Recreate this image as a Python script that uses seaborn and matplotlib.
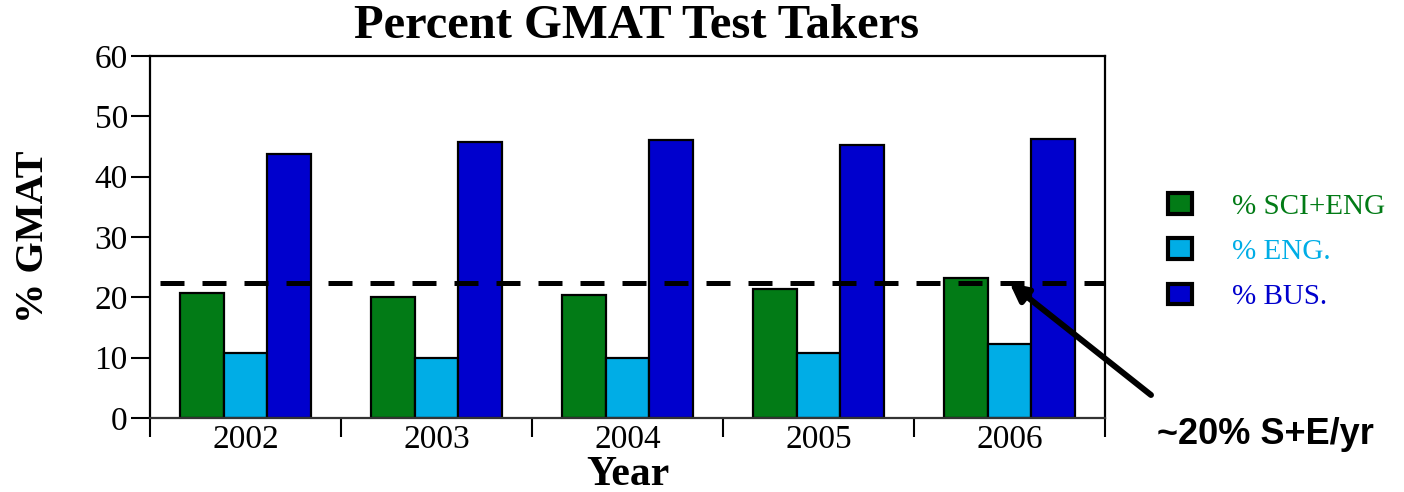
import numpy as np
import pandas as pd
import seaborn as sns
from matplotlib import pyplot as plt

years = ['2002', '2003', '2004', '2005', '2006']
series_names = ['% SCI+ENG', '% ENG.', '% BUS.']
sci_eng = [20.8, 20.0, 20.4, 21.4, 23.2]
eng = [10.7, 10.0, 10.0, 10.7, 12.2]
bus = [43.7, 45.8, 46.1, 45.2, 46.2]
colors = ['#027B16', '#00ADE6', '#0000CD']
avg_level = 22.4

df = pd.DataFrame({'Year': years * 3,
                   'pct': sci_eng + eng + bus,
                   'series': np.repeat(series_names, len(years))})

sns.set_theme(style='ticks')
plt.rcParams['font.family'] = ['Liberation Serif', 'DejaVu Serif']
plt.rcParams['text.color'] = 'black'
plt.rcParams['axes.labelcolor'] = 'black'
plt.rcParams['xtick.color'] = 'black'
plt.rcParams['ytick.color'] = 'black'

fig = plt.figure(figsize=(14.04, 4.92), dpi=100)
ax = fig.add_axes([150/1404, 1-418/492, 955/1404, 362/492])

sns.barplot(data=df, x='Year', y='pct', hue='series',
            palette=colors, saturation=1, width=0.685,
            edgecolor='black', linewidth=1.6, ax=ax)

ax.set_xlim(-0.5, 4.5)
ax.set_ylim(0, 60)
ax.set_yticks(np.arange(0, 61, 10))
ax.set_xticks(np.arange(-0.5, 5, 1), minor=True)
ax.tick_params(axis='y', labelsize=24, length=14, width=1.5, pad=2)
ax.tick_params(axis='x', which='major', labelsize=24, length=0, pad=5)
ax.tick_params(axis='x', which='minor', length=14, width=1.5)
for s in ax.spines.values():
    s.set_visible(True)
    s.set_color('black')
    s.set_linewidth(1.6)
ax.spines['bottom'].set_color('#333333')

ax.axhline(avg_level, xmin=0.01, xmax=1.0, color='black', lw=3.6, dashes=(4.8, 3.6))

ax.set_ylabel('% GMAT', fontsize=29, fontweight='bold')
ax.yaxis.set_label_coords(-0.103, 0.5)
ax.set_xlabel('Year', fontsize=30, fontweight='bold')
ax.xaxis.set_label_coords(0.5, -0.104)

fig.text(637/1404, 1-38/492, 'Percent GMAT Test Takers', ha='center', va='baseline',
         fontsize=35, fontweight='bold')

handles, labels = ax.get_legend_handles_labels()
leg = ax.legend(handles, labels, loc='upper left', frameon=False,
                bbox_to_anchor=(1168/1404, 1-193/492), bbox_transform=fig.transFigure,
                borderaxespad=0, borderpad=0,
                fontsize=21, handlelength=0.83, handleheight=0.72, handletextpad=1.38,
                labelspacing=0.64, labelcolor=colors)
for h in leg.legend_handles:
    h.set_linewidth(3)

ax.annotate('', xy=(4.0, avg_level), xycoords='data',
            xytext=(1151/1404, 1-395/492), textcoords='figure fraction',
            arrowprops=dict(arrowstyle='-|>,head_length=0.9,head_width=0.45',
                            color='black', lw=4.3, shrinkA=0, shrinkB=0))
fig.text(1157/1404, 1-434/492, '~20% S+E/yr', ha='left', va='center',
         fontsize=26, fontweight='bold', family=['Liberation Sans', 'DejaVu Sans'])

fig.savefig('out.png', dpi=100)
plt.close('all')
